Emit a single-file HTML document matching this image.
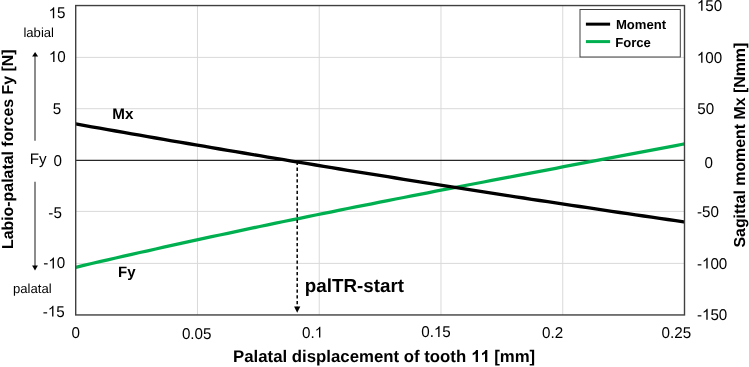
<!DOCTYPE html>
<html><head><meta charset="utf-8"><style>
html,body{margin:0;padding:0;background:#fff;}
svg{display:block;will-change:transform;font-kerning:none;font-variant-ligatures:none;text-rendering:geometricPrecision;font-family:"Liberation Sans",sans-serif;}
</style></head><body>
<svg width="749" height="367" viewBox="0 0 749 367">
<rect width="749" height="367" fill="#fff"/>
<line x1="75.7" y1="57.40" x2="684.5" y2="57.40" stroke="#d9d9d9" stroke-width="1"/>
<line x1="75.7" y1="108.70" x2="684.5" y2="108.70" stroke="#d9d9d9" stroke-width="1"/>
<line x1="75.7" y1="211.40" x2="684.5" y2="211.40" stroke="#d9d9d9" stroke-width="1"/>
<line x1="75.7" y1="263.40" x2="684.5" y2="263.40" stroke="#d9d9d9" stroke-width="1"/>
<line x1="197.46" y1="5.55" x2="197.46" y2="314.95" stroke="#d9d9d9" stroke-width="1"/>
<line x1="319.22" y1="5.55" x2="319.22" y2="314.95" stroke="#d9d9d9" stroke-width="1"/>
<line x1="440.98" y1="5.55" x2="440.98" y2="314.95" stroke="#d9d9d9" stroke-width="1"/>
<line x1="562.74" y1="5.55" x2="562.74" y2="314.95" stroke="#d9d9d9" stroke-width="1"/>
<line x1="75.7" y1="160.40" x2="684.5" y2="160.40" stroke="#262626" stroke-width="1.2"/>
<polyline points="75.7,267.3 83.7,265.4 91.7,263.5 99.7,261.7 107.7,259.8 115.7,258.0 123.7,256.2 131.7,254.4 139.7,252.5 147.7,250.8 155.7,249.0 163.7,247.2 171.7,245.4 179.7,243.7 187.7,241.9 195.7,240.2 203.7,238.4 211.7,236.7 219.7,235.0 227.7,233.3 235.7,231.6 243.7,229.9 251.7,228.2 259.7,226.5 267.7,224.9 275.7,223.2 283.7,221.5 291.7,219.9 299.7,218.3 307.7,216.6 315.7,215.0 323.7,213.4 331.7,211.8 339.7,210.1 347.7,208.5 355.7,206.9 363.7,205.3 371.7,203.8 379.7,202.2 387.7,200.6 395.7,199.0 403.7,197.5 411.7,195.9 419.7,194.3 427.7,192.8 435.7,191.2 443.7,189.7 451.7,188.1 459.7,186.6 467.7,185.0 475.7,183.5 483.7,182.0 491.7,180.4 499.7,178.9 507.7,177.4 515.7,175.9 523.7,174.3 531.7,172.8 539.7,171.3 547.7,169.8 555.7,168.3 563.7,166.7 571.7,165.2 579.7,163.7 587.7,162.2 595.7,160.7 603.7,159.2 611.7,157.7 619.7,156.2 627.7,154.6 635.7,153.1 643.7,151.6 651.7,150.1 659.7,148.6 667.7,147.1 675.7,145.6 683.7,144.0 684.5,143.9" fill="none" stroke="#00b050" stroke-width="3.3" stroke-linejoin="round"/>
<polyline points="75.7,123.9 83.7,125.4 91.7,126.8 99.7,128.2 107.7,129.6 115.7,131.0 123.7,132.4 131.7,133.8 139.7,135.2 147.7,136.6 155.7,138.0 163.7,139.4 171.7,140.8 179.7,142.1 187.7,143.5 195.7,144.9 203.7,146.2 211.7,147.6 219.7,149.0 227.7,150.3 235.7,151.7 243.7,153.0 251.7,154.4 259.7,155.7 267.7,157.1 275.7,158.4 283.7,159.7 291.7,161.1 299.7,162.4 307.7,163.7 315.7,165.0 323.7,166.3 331.7,167.7 339.7,169.0 347.7,170.3 355.7,171.6 363.7,172.9 371.7,174.2 379.7,175.4 387.7,176.7 395.7,178.0 403.7,179.3 411.7,180.6 419.7,181.8 427.7,183.1 435.7,184.4 443.7,185.6 451.7,186.9 459.7,188.1 467.7,189.4 475.7,190.6 483.7,191.9 491.7,193.1 499.7,194.4 507.7,195.6 515.7,196.8 523.7,198.0 531.7,199.3 539.7,200.5 547.7,201.7 555.7,202.9 563.7,204.1 571.7,205.3 579.7,206.5 587.7,207.7 595.7,208.9 603.7,210.1 611.7,211.3 619.7,212.5 627.7,213.6 635.7,214.8 643.7,216.0 651.7,217.2 659.7,218.3 667.7,219.5 675.7,220.6 683.7,221.8 684.5,221.9" fill="none" stroke="#000" stroke-width="3.3" stroke-linejoin="round"/>
<line x1="297.2" y1="162.6" x2="297.2" y2="307" stroke="#000" stroke-width="1.5" stroke-dasharray="3.3 2.5" stroke-dashoffset="0.8"/>
<path d="M294.09999999999997,306.4 L300.3,306.4 L297.2,312.8 Z" fill="#000"/>
<rect x="75.7" y="5.55" width="608.80" height="309.40" fill="none" stroke="#404040" stroke-width="1.4"/>
<rect x="580" y="9.5" width="100.3" height="47.5" fill="#fff" stroke="#404040" stroke-width="1"/>
<line x1="585.9" y1="24.15" x2="610.1" y2="24.15" stroke="#000" stroke-width="3"/>
<line x1="585.9" y1="41.6" x2="610.1" y2="41.6" stroke="#00b050" stroke-width="3"/>
<g transform="translate(615.92,28.70)"><text x="0" y="0" font-size="13.1" font-weight="bold" fill="#000">Moment</text></g>
<g transform="translate(615.22,47.20)"><text x="0" y="0" font-size="13.1" font-weight="bold" fill="#000">Force</text></g>
<g transform="translate(48.54,18.20)"><g transform="scale(1,1.03)"><text x="0" y="0" font-size="15.2" font-weight="normal" fill="#000"> 5</text></g><path transform="translate(0.000,0) scale(0.007422,-0.007422)" d="M763,0L583,0L583,1147Q518,1085 412,1023Q307,961 223,930L223,1104Q374,1175 487,1276Q599,1376 651,1472L763,1472Z" fill="#000"/></g>
<g transform="translate(48.84,61.90)"><g transform="scale(1,1.03)"><text x="0" y="0" font-size="15.2" font-weight="normal" fill="#000"> 0</text></g><path transform="translate(0.000,0) scale(0.007422,-0.007422)" d="M763,0L583,0L583,1147Q518,1085 412,1023Q307,961 223,930L223,1104Q374,1175 487,1276Q599,1376 651,1472L763,1472Z" fill="#000"/></g>
<g transform="translate(52.69,114.30)"><g transform="scale(1,1.03)"><text x="0" y="0" font-size="15.2" font-weight="normal" fill="#000">5</text></g></g>
<g transform="translate(53.41,166.40)"><g transform="scale(1,1.03)"><text x="0" y="0" font-size="15.2" font-weight="normal" fill="#000">0</text></g></g>
<g transform="translate(48.32,218.40)"><g transform="scale(1,1.03)"><text x="0" y="0" font-size="15.2" font-weight="normal" fill="#000">-5</text></g></g>
<g transform="translate(43.22,268.40)"><g transform="scale(1,1.03)"><text x="0" y="0" font-size="15.2" font-weight="normal" fill="#000">- 0</text></g><path transform="translate(5.062,0) scale(0.007422,-0.007422)" d="M763,0L583,0L583,1147Q518,1085 412,1023Q307,961 223,930L223,1104Q374,1175 487,1276Q599,1376 651,1472L763,1472Z" fill="#000"/></g>
<g transform="translate(42.72,316.60)"><g transform="scale(1,1.03)"><text x="0" y="0" font-size="15.2" font-weight="normal" fill="#000">- 5</text></g><path transform="translate(5.062,0) scale(0.007422,-0.007422)" d="M763,0L583,0L583,1147Q518,1085 412,1023Q307,961 223,930L223,1104Q374,1175 487,1276Q599,1376 651,1472L763,1472Z" fill="#000"/></g>
<g transform="translate(696.84,10.70)"><g transform="scale(1,1.03)"><text x="0" y="0" font-size="15.2" font-weight="normal" fill="#000"> 50</text></g><path transform="translate(0.000,0) scale(0.007422,-0.007422)" d="M763,0L583,0L583,1147Q518,1085 412,1023Q307,961 223,930L223,1104Q374,1175 487,1276Q599,1376 651,1472L763,1472Z" fill="#000"/></g>
<g transform="translate(696.84,62.80)"><g transform="scale(1,1.03)"><text x="0" y="0" font-size="15.2" font-weight="normal" fill="#000"> 00</text></g><path transform="translate(0.000,0) scale(0.007422,-0.007422)" d="M763,0L583,0L583,1147Q518,1085 412,1023Q307,961 223,930L223,1104Q374,1175 487,1276Q599,1376 651,1472L763,1472Z" fill="#000"/></g>
<g transform="translate(697.19,113.60)"><g transform="scale(1,1.03)"><text x="0" y="0" font-size="15.2" font-weight="normal" fill="#000">50</text></g></g>
<g transform="translate(704.41,167.90)"><g transform="scale(1,1.03)"><text x="0" y="0" font-size="15.2" font-weight="normal" fill="#000">0</text></g></g>
<g transform="translate(696.92,216.80)"><g transform="scale(1,1.03)"><text x="0" y="0" font-size="15.2" font-weight="normal" fill="#000">-50</text></g></g>
<g transform="translate(696.92,268.60)"><g transform="scale(1,1.03)"><text x="0" y="0" font-size="15.2" font-weight="normal" fill="#000">- 00</text></g><path transform="translate(5.062,0) scale(0.007422,-0.007422)" d="M763,0L583,0L583,1147Q518,1085 412,1023Q307,961 223,930L223,1104Q374,1175 487,1276Q599,1376 651,1472L763,1472Z" fill="#000"/></g>
<g transform="translate(696.92,319.70)"><g transform="scale(1,1.03)"><text x="0" y="0" font-size="15.2" font-weight="normal" fill="#000">- 50</text></g><path transform="translate(5.062,0) scale(0.007422,-0.007422)" d="M763,0L583,0L583,1147Q518,1085 412,1023Q307,961 223,930L223,1104Q374,1175 487,1276Q599,1376 651,1472L763,1472Z" fill="#000"/></g>
<g transform="translate(71.51,337.50)"><g transform="scale(1,1.03)"><text x="0" y="0" font-size="15.2" font-weight="normal" fill="#000">0</text></g></g>
<g transform="translate(181.91,338.90)"><g transform="scale(1,1.03)"><text x="0" y="0" font-size="15.2" font-weight="normal" fill="#000">0.05</text></g></g>
<g transform="translate(302.01,337.60)"><g transform="scale(1,1.03)"><text x="0" y="0" font-size="15.2" font-weight="normal" fill="#000">0. </text></g><path transform="translate(12.677,0) scale(0.007422,-0.007422)" d="M763,0L583,0L583,1147Q518,1085 412,1023Q307,961 223,930L223,1104Q374,1175 487,1276Q599,1376 651,1472L763,1472Z" fill="#000"/></g>
<g transform="translate(421.21,336.90)"><g transform="scale(1,1.03)"><text x="0" y="0" font-size="15.2" font-weight="normal" fill="#000">0. 5</text></g><path transform="translate(12.677,0) scale(0.007422,-0.007422)" d="M763,0L583,0L583,1147Q518,1085 412,1023Q307,961 223,930L223,1104Q374,1175 487,1276Q599,1376 651,1472L763,1472Z" fill="#000"/></g>
<g transform="translate(542.01,337.60)"><g transform="scale(1,1.03)"><text x="0" y="0" font-size="15.2" font-weight="normal" fill="#000">0.2</text></g></g>
<g transform="translate(661.61,337.60)"><g transform="scale(1,1.03)"><text x="0" y="0" font-size="15.2" font-weight="normal" fill="#000">0.25</text></g></g>
<g transform="translate(233.08,362.10)"><text x="0" y="0" font-size="16.8" font-weight="bold" fill="#000">Palatal displacement of tooth    [mm]</text><path transform="translate(238.038,0) scale(0.008203,-0.008203)" d="M836,0L556,0L556,1059Q402,915 192,846L192,1101Q303,1137 432,1238Q561,1338 609,1472L836,1472Z" fill="#000"/><path transform="translate(247.382,0) scale(0.008203,-0.008203)" d="M836,0L556,0L556,1059Q402,915 192,846L192,1101Q303,1137 432,1238Q561,1338 609,1472L836,1472Z" fill="#000"/></g>
<g transform="translate(12.70,249.06) rotate(-90)"><text x="0" y="0" font-size="15.9" font-weight="bold" fill="#000">Labio-palatal forces Fy [N]</text></g>
<g transform="translate(744.60,247.56) rotate(-90)"><text x="0" y="0" font-size="15.9" font-weight="bold" fill="#000">Sagittal moment Mx [Nmm]</text></g>
<g transform="translate(112.28,119.40)"><text x="0" y="0" font-size="15.2" font-weight="bold" fill="#000">Mx</text></g>
<g transform="translate(118.00,276.50)"><text x="0" y="0" font-size="15.0" font-weight="bold" fill="#000">Fy</text></g>
<g transform="translate(304.86,292.40)"><text x="0" y="0" font-size="18.8" font-weight="bold" fill="#000">palTR-start</text></g>
<g transform="translate(23.42,36.60)"><text x="0" y="0" font-size="13.1" font-weight="normal" fill="#000">labial</text></g>
<g transform="translate(13.06,293.00)"><text x="0" y="0" font-size="13.1" font-weight="normal" fill="#000">palatal</text></g>
<g transform="translate(29.75,163.90)"><text x="0" y="0" font-size="15.2" font-weight="normal" fill="#000">Fy</text></g>
<line x1="35" y1="56" x2="35" y2="140.8" stroke="#8c8c8c" stroke-width="2"/>
<path d="M32.1,56.6 L38.1,56.6 L35.1,51.9 Z" fill="#000"/>
<line x1="35" y1="181.7" x2="35" y2="266" stroke="#8c8c8c" stroke-width="2"/>
<path d="M32.1,265.6 L37.9,265.6 L35,270.5 Z" fill="#000"/>
</svg>
</body></html>
